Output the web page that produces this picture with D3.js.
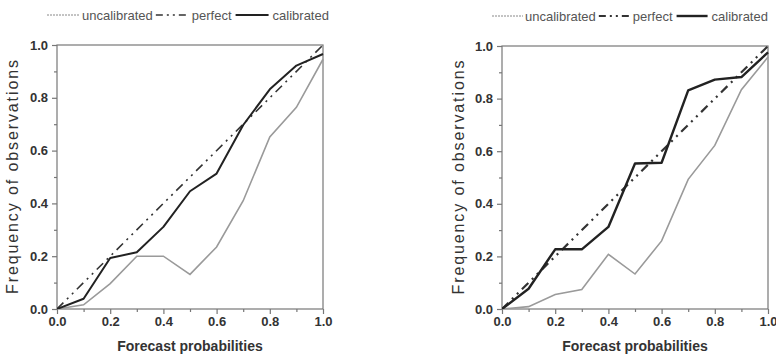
<!DOCTYPE html>
<html><head><meta charset="utf-8">
<script src="https://cdn.jsdelivr.net/npm/d3@7"></script>
<style>
html,body{margin:0;padding:0;background:#fff;}
svg{display:block;}
text{font-family:"Liberation Sans",Arial,sans-serif;}
</style></head>
<body>
<svg id="chart" width="776" height="355"></svg>
<script>
// ---- data ----
const forecastProbs = [0, 0.1, 0.2, 0.3, 0.4, 0.5, 0.6, 0.7, 0.8, 0.9, 1.0];
const leftCalibrated   = [0, 0.039, 0.193, 0.215, 0.311, 0.446, 0.513, 0.697, 0.832, 0.922, 0.966];
const leftUncalibrated = [0, 0.016, 0.096, 0.200, 0.200, 0.131, 0.235, 0.410, 0.652, 0.764, 0.946];
const rightCalibrated   = [0, 0.077, 0.227, 0.227, 0.312, 0.553, 0.556, 0.831, 0.872, 0.882, 0.976];
const rightUncalibrated = [0, 0.009, 0.055, 0.074, 0.208, 0.133, 0.259, 0.493, 0.622, 0.834, 0.958];
const perfectX = [0, 1];
const perfectY = [0, 1];
const majorTicks = [0, 0.2, 0.4, 0.6, 0.8, 1.0];
const minorTicks = [0.1, 0.3, 0.5, 0.7, 0.9];
const tickLabels = ["0.0", "0.2", "0.4", "0.6", "0.8", "1.0"];
const legendLabels = ["uncalibrated", "perfect", "calibrated"];
const xTitle = "Forecast probabilities";
const yTitle = "Frequency of observations";

const svg = d3.select("#chart");

function panel(cfg) {
  const x = d3.scaleLinear().domain([0, 1]).range([cfg.x0, cfg.x1]);
  const y = d3.scaleLinear().domain([0, 1]).range([cfg.y0, cfg.y1]);
  const g = svg.append("g");
  const axisColor = "#777";

  // box
  g.append("rect").attr("x", cfg.x0).attr("y", cfg.y1)
    .attr("width", cfg.x1 - cfg.x0).attr("height", cfg.y0 - cfg.y1)
    .attr("fill", "none").attr("stroke", axisColor).attr("stroke-width", 1.2);

  // axes
  const xAxis = d3.axisBottom(x).tickValues(majorTicks)
    .tickFormat((d, i) => tickLabels[i]).tickSize(5).tickPadding(3);
  const gx = g.append("g").attr("transform", `translate(0,${cfg.y0})`).call(xAxis);
  const xMinor = d3.axisBottom(x).tickValues(minorTicks).tickFormat("").tickSize(3);
  const gxm = g.append("g").attr("transform", `translate(0,${cfg.y0})`).call(xMinor);
  const yAxis = d3.axisLeft(y).tickValues(majorTicks)
    .tickFormat((d, i) => tickLabels[i]).tickSize(5).tickPadding(4);
  const gy = g.append("g").attr("transform", `translate(${cfg.x0},0)`).call(yAxis);
  const yMinor = d3.axisLeft(y).tickValues(minorTicks).tickFormat("").tickSize(3);
  const gym = g.append("g").attr("transform", `translate(${cfg.x0},0)`).call(yMinor);
  [gx, gxm, gy, gym].forEach(a => {
    a.select(".domain").remove();
    a.selectAll("line").attr("stroke", axisColor).attr("stroke-width", 1.2);
    a.selectAll("text").attr("fill", "#333").attr("font-size", 13)
      .attr("font-weight", "bold").attr("font-family", "'Liberation Sans', Arial, sans-serif");
  });

  const line = d3.line().x(d => x(d[0])).y(d => y(d[1]));
  const clip = "clip" + cfg.id;
  g.append("clipPath").attr("id", clip).append("rect")
    .attr("x", cfg.x0).attr("y", cfg.y1 - 2).attr("width", cfg.x1 - cfg.x0 + 2).attr("height", cfg.y0 - cfg.y1 + 2);
  const lg = g.append("g").attr("clip-path", `url(#${clip})`);

  lg.append("path").datum(d3.zip(forecastProbs, cfg.uncal)).attr("d", line)
    .attr("fill", "none").attr("stroke", "#9a9a9a").attr("stroke-width", 1.6);
  lg.append("path").datum(d3.zip(perfectX, perfectY)).attr("d", line)
    .attr("fill", "none").attr("stroke", "#333").attr("stroke-width", cfg.perfW)
    .attr("stroke-dasharray", "9,5,2,5,2,5");
  lg.append("path").datum(d3.zip(forecastProbs, cfg.cal)).attr("d", line)
    .attr("fill", "none").attr("stroke", "#222").attr("stroke-width", cfg.calW)
    .attr("stroke-linejoin", "round");

  // titles
  g.append("text").attr("x", (cfg.x0 + cfg.x1) / 2).attr("y", 351)
    .attr("text-anchor", "middle").attr("font-size", 14).attr("font-weight", "bold")
    .attr("fill", "#333").text(xTitle);
  g.append("text").attr("transform", `translate(${cfg.yTitleX},${(cfg.y0 + cfg.y1) / 2}) rotate(-90)`)
    .attr("text-anchor", "middle").attr("font-size", 16).attr("fill", "#333")
    .attr("textLength", 234).attr("lengthAdjust", "spacing")
    .text(yTitle);

  // legend
  const ly = cfg.legY;
  const L = g.append("g");
  let cx = cfg.legX;
  L.append("line").attr("x1", cx).attr("x2", cx + cfg.sw).attr("y1", ly).attr("y2", ly)
    .attr("stroke", "#888").attr("stroke-width", 1).attr("stroke-dasharray", "2,1");
  cx += cfg.sw + 2;
  const t1 = L.append("text").attr("x", cx).attr("y", ly + 4.5).attr("font-size", 13).attr("fill", "#555").text(legendLabels[0]);
  cx += t1.node().getComputedTextLength() + 3;
  L.append("line").attr("x1", cx).attr("x2", cx + cfg.sw).attr("y1", ly).attr("y2", ly)
    .attr("stroke", "#333").attr("stroke-width", cfg.perfW).attr("stroke-dasharray", "7,4,2,4,2,4");
  cx += cfg.sw + 3;
  const t2 = L.append("text").attr("x", cx).attr("y", ly + 4.5).attr("font-size", 13).attr("fill", "#555").text(legendLabels[1]);
  cx += t2.node().getComputedTextLength() + 4;
  L.append("line").attr("x1", cx).attr("x2", cx + cfg.sw).attr("y1", ly).attr("y2", ly)
    .attr("stroke", "#222").attr("stroke-width", cfg.calW);
  cx += cfg.sw + 4;
  L.append("text").attr("x", cx).attr("y", ly + 4.5).attr("font-size", 13).attr("fill", "#555").text(legendLabels[2]);
}

panel({id: "L", x0: 57, x1: 323, y0: 309, y1: 45, cal: leftCalibrated, uncal: leftUncalibrated,
  perfW: 1.6, calW: 2, yTitleX: 18, legX: 47, legY: 15, sw: 33});
panel({id: "R", x0: 502, x1: 768, y0: 309, y1: 46, cal: rightCalibrated, uncal: rightUncalibrated,
  perfW: 2.2, calW: 2.4, yTitleX: 464, legX: 492, legY: 16, sw: 31});
</script>
</body></html>
